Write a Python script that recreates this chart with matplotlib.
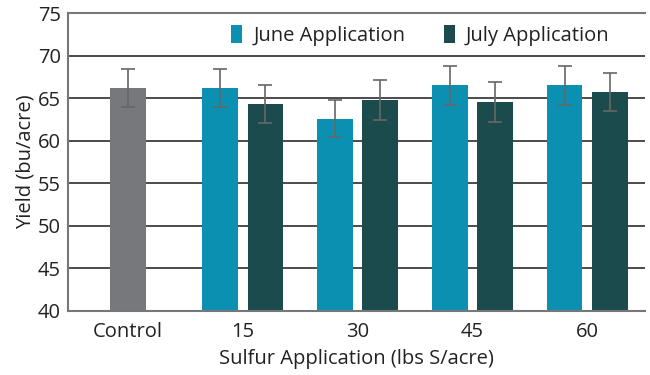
import matplotlib
matplotlib.use("Agg")
import matplotlib.pyplot as plt
import numpy as np

# data
groups = ["Control", "15", "30", "45", "60"]
control_yield = 66.2
control_err = 2.2
june_yield = [66.2, 62.6, 66.5, 66.5]
june_err = [2.2, 2.2, 2.25, 2.25]
july_yield = [64.3, 64.8, 64.6, 65.7]
july_err = [2.2, 2.35, 2.35, 2.25]

gray = "#77787c"
june_color = "#0b90b1"
july_color = "#1b4b4c"
err_color = "#666666"

plt.rcParams["font.family"] = ["Open Sans", "DejaVu Sans"]
fs = 14.5

fig = plt.figure(figsize=(6.5, 3.75), dpi=100)
ax = fig.add_axes([0.1046, 0.1707, 0.8874, 0.7943])

x = np.arange(len(groups))
width = 0.31
offset = 0.198
err_kw = dict(ecolor=err_color, capsize=4.7, elinewidth=1.2, capthick=1.2)

ax.bar(x[0], control_yield - 40, bottom=40, width=width, color=gray,
       yerr=control_err, error_kw=err_kw, zorder=2)
ax.bar(x[1:] - offset, np.array(june_yield) - 40, bottom=40, width=width,
       color=june_color, yerr=june_err, error_kw=err_kw, zorder=2,
       label="June Application")
ax.bar(x[1:] + offset, np.array(july_yield) - 40, bottom=40, width=width,
       color=july_color, yerr=july_err, error_kw=err_kw, zorder=2,
       label="July Application")

ax.set_ylim(40, 75)
ax.set_xlim(-0.52, 4.5)
ax.set_yticks(np.arange(40, 76, 5))
ax.set_xticks(x)
ax.set_xticklabels(groups)
ax.tick_params(axis="both", length=0, labelsize=fs, colors="#222222")
ax.tick_params(axis="x", pad=8)
ax.tick_params(axis="y", pad=5)

for yv in range(45, 75, 5):
    ax.axhline(yv, color="#1a1a1a", lw=1.1, zorder=1)

for side in ["top", "left", "bottom"]:
    ax.spines[side].set_color("#777777")
    ax.spines[side].set_linewidth(1.5)
ax.spines["right"].set_visible(False)

ax.set_xlabel("Sulfur Application (lbs S/acre)", fontsize=fs, color="#222222", labelpad=5)
ax.set_ylabel("Yield (bu/acre)", fontsize=fs, color="#222222", labelpad=2)

ax.legend(loc="upper right", ncol=2, frameon=False, fontsize=fs,
          handlelength=0.55, handleheight=0.95, handletextpad=0.55,
          columnspacing=1.9, bbox_to_anchor=(0.97, 1.02), labelcolor="#222222")

fig.savefig("out.png", dpi=100)
